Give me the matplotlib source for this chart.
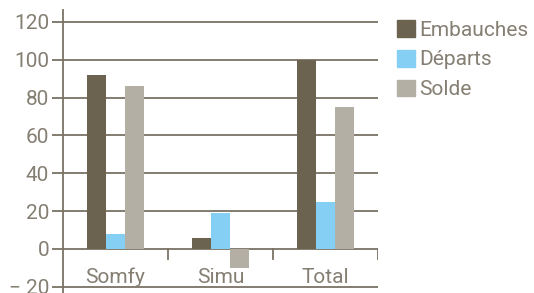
import numpy as np
import matplotlib.pyplot as plt
from matplotlib.patches import Patch

# Data
categories = ["Somfy", "Simu", "Total"]
series = ["Embauches", "Départs", "Solde"]
embauches = [92, 6, 100]
departs = [8, 19, 25]
solde = [86, -10, 75]
yticks = [-20, 0, 20, 40, 60, 80, 100, 120]

colors = ["#6b624f", "#85cff5", "#b3afa5"]
line_c = "#7a7264"
text_c = "#857f73"

plt.rcParams["font.family"] = ["Roboto", "DejaVu Sans"]
fs = 15

fig = plt.figure(figsize=(5.34, 2.93), dpi=100)
ax = fig.add_axes([63 / 534, 0.0, (378 - 63) / 534, 1 - 10 / 293])

x = np.arange(len(categories))
w = 0.18
for i, vals in enumerate([embauches, departs, solde]):
    ax.bar(x + (i - 1) * w, vals, w, color=colors[i], zorder=3)

ax.set_xlim(-0.5, len(categories) - 0.5)
ax.set_ylim(-23.3, 126.3)
ax.set_yticks(yticks)
ax.set_yticklabels([("\u2212 20" if v < 0 else str(v)) for v in yticks])
ax.yaxis.grid(True, color=line_c, linewidth=1.3, zorder=1)
ax.tick_params(axis="y", direction="out", length=8, width=1.3, color=line_c,
               labelcolor=text_c, labelsize=fs, pad=2)
ax.set_xticks([])
for s in ["top", "right", "bottom"]:
    ax.spines[s].set_visible(False)
ax.spines["left"].set_color(line_c)
ax.spines["left"].set_linewidth(1.3)

# category separators below the zero line
for b in x + 0.5:
    ax.plot([b, b], [0, -5.5], color=line_c, linewidth=1.3, zorder=2)

for i, c in enumerate(categories):
    ax.text(i, -15, c, ha="center", va="center", color=text_c, fontsize=fs)

handles = [Patch(color=c) for c in colors]
fig.legend(handles, series, loc="upper left", bbox_to_anchor=(397 / 534, 1 - 20 / 293),
           frameon=False, fontsize=fs, handlelength=0.85, handleheight=0.85,
           handletextpad=0.2, labelspacing=0.5, borderaxespad=0, borderpad=0,
           labelcolor=text_c)

fig.savefig("out.png", dpi=100)
